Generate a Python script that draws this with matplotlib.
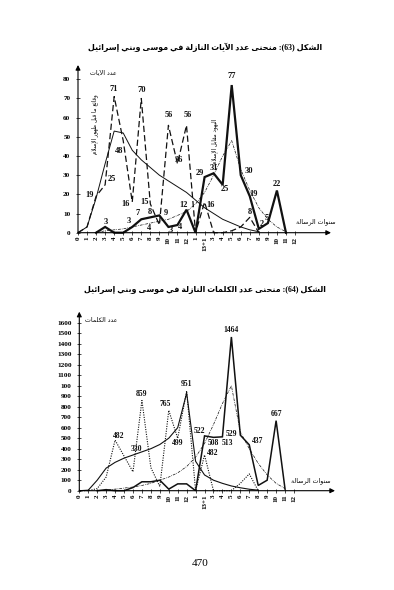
import re

import numpy as np
import matplotlib
matplotlib.use("Agg")
import matplotlib.pyplot as plt

# x axis: mission years (Mecca 0..12, then Medina)
X_LABELS = [str(i) for i in range(13)] + ["1", "13+1"] + [str(i) for i in range(3, 13)]

# figure 63: number of verses
AYAT_MAKKI = [0, 3, 19, 25, 71, 48, 16, 70, 15, 4, 56, 36, 56, 0, 16, 0, 0, 1, 3, 8, 0]          # from year idx 0
AYAT_MADANI = [0, 3, 0, 0, 3, 7, 8, 9, 3, 4, 12, 0, 29, 31, 25, 77, 30, 19, 2, 5, 22, 0]         # from idx 2
AYAT_TREND_MAKKI = [0, 3, 18, 36, 53, 52, 43, 38, 34, 30, 27, 24, 21, 17, 13, 10, 7, 5, 3, 1.5, 0.5]
AYAT_TREND_MADANI = [0, 1, 1.5, 2, 3, 4, 5, 6, 7, 9, 11, 15, 21, 30, 40, 48, 33, 22, 13, 7, 3, 0.5]

AYAT_NOTES_MAKKI = {2: "19", 3: "25", 4: "71", 5: "48", 6: "16", 7: "70", 8: "15", 9: "4",
                    10: "56", 11: "36", 12: "56", 14: "16", 19: "8"}
AYAT_NOTES_MADANI = {3: "3", 6: "3", 7: "7", 8: "8", 9: "9", 10: "3", 11: "4", 12: "12",
                     14: "29", 15: "31", 16: "25", 17: "77", 18: "30", 19: "19", 20: "2",
                     21: "5", 22: "22"}
AYAT_YTICKS = [0, 10, 20, 30, 40, 50, 60, 70, 80]

# figure 64: number of words
KALIMAT_MAKKI = [0, 0, 20, 130, 482, 330, 180, 859, 220, 40, 765, 499, 951, 0, 340, 0, 0, 0, 70, 160, 0]
KALIMAT_MADANI = [0, 10, 0, 0, 30, 85, 85, 100, 15, 65, 65, 0, 522, 508, 513, 1464, 529, 437, 50, 100, 667, 15]
KALIMAT_TREND_MAKKI = [0, 5, 100, 215, 270, 310, 340, 370, 400, 440, 500, 600, 930, 280, 150, 100, 70, 45, 28, 14, 5]
KALIMAT_TREND_MADANI = [0, 5, 15, 25, 35, 50, 70, 100, 130, 170, 230, 320, 450, 630, 830, 1000,
                        560, 400, 260, 150, 70, 20]

KALIMAT_NOTES_MAKKI = {4: "482", 5: "330", 7: "859", 10: "765", 11: "499", 12: "951", 14: "482"}
KALIMAT_NOTES_MADANI = {14: "522", 15: "508", 16: "513", 17: "1464", 18: "529", 19: "437", 22: "667"}
KALIMAT_YTICKS = list(range(0, 1700, 100))
KALIMAT_YLABELS = ["0", "100", "200", "300", "400", "500", "600", "700", "800", "900", "100",
                   "1100", "1200", "1300", "1400", "1500", "1600"]

W, H = 394, 590
SERIF = ["Liberation Serif", "DejaVu Sans"]

# --- minimal arabic shaping (presentation forms + reversed order) ---
_LET = [("ء", 0xFE80, 1), ("آ", 0xFE81, 2), ("أ", 0xFE83, 2), ("ؤ", 0xFE85, 2), ("إ", 0xFE87, 2),
        ("ئ", 0xFE89, 4), ("ا", 0xFE8D, 2), ("ب", 0xFE8F, 4), ("ة", 0xFE93, 2), ("ت", 0xFE95, 4),
        ("ث", 0xFE99, 4), ("ج", 0xFE9D, 4), ("ح", 0xFEA1, 4), ("خ", 0xFEA5, 4), ("د", 0xFEA9, 2),
        ("ذ", 0xFEAB, 2), ("ر", 0xFEAD, 2), ("ز", 0xFEAF, 2), ("س", 0xFEB1, 4), ("ش", 0xFEB5, 4),
        ("ص", 0xFEB9, 4), ("ض", 0xFEBD, 4), ("ط", 0xFEC1, 4), ("ظ", 0xFEC5, 4), ("ع", 0xFEC9, 4),
        ("غ", 0xFECD, 4), ("ف", 0xFED1, 4), ("ق", 0xFED5, 4), ("ك", 0xFED9, 4), ("ل", 0xFEDD, 4),
        ("م", 0xFEE1, 4), ("ن", 0xFEE5, 4), ("ه", 0xFEE9, 4), ("و", 0xFEED, 2), ("ى", 0xFEEF, 2),
        ("ي", 0xFEF1, 4)]
TAB = {c: (b, k) for c, b, k in _LET}
LAM_ALEF = {"آ": 0xFEF5, "أ": 0xFEF7, "إ": 0xFEF9, "ا": 0xFEFB}


def ar(s):
    out = []
    i = 0
    while i < len(s):
        c = s[i]
        if c not in TAB:
            out.append(c)
            i += 1
            continue
        prev = s[i - 1] if i > 0 else ""
        jp = prev in TAB and TAB[prev][1] == 4
        if c == "ل" and i + 1 < len(s) and s[i + 1] in LAM_ALEF:
            out.append(chr(LAM_ALEF[s[i + 1]] + (1 if jp else 0)))
            i += 2
            continue
        nxt = s[i + 1] if i + 1 < len(s) else ""
        base, k = TAB[c]
        jn = k == 4 and nxt in TAB
        if k == 1:
            form = 0
        elif jp and jn:
            form = 3
        elif jp:
            form = 1
        elif jn:
            form = 2
        else:
            form = 0
        out.append(chr(base + form))
        i += 1
    vis = "".join(out)[::-1]
    vis = vis.translate(str.maketrans("()", ")("))
    return re.sub(r"[0-9+]+", lambda m: m.group(0)[::-1], vis)


def px(x, y):
    return x / W, 1 - y / H


def panel(ax, x0, xmax, ymax, yticks, ylabels, series, notes, offsets, note_size):
    ax.set_xlim(0, xmax)
    ax.set_ylim(0, ymax)
    for s in ax.spines.values():
        s.set_visible(False)
    ax.set_facecolor("none")
    ax.annotate("", xy=(0, ymax), xytext=(0, 0), xycoords="data",
                arrowprops=dict(arrowstyle="-|>", lw=0.8, color="black", mutation_scale=7,
                                shrinkA=0, shrinkB=0), annotation_clip=False)
    ax.annotate("", xy=(xmax, 0), xytext=(0, 0), xycoords="data",
                arrowprops=dict(arrowstyle="-|>", lw=0.8, color="black", mutation_scale=7,
                                shrinkA=0, shrinkB=0), annotation_clip=False)

    ax.set_xticks(range(len(X_LABELS)))
    ax.set_xticklabels(X_LABELS, rotation=90, fontsize=5, fontweight="bold", family=SERIF)
    ax.set_yticks(yticks)
    ax.set_yticklabels(ylabels, fontsize=5.2, fontweight="bold", family=SERIF)
    ax.tick_params(axis="x", direction="inout", length=3, width=0.5, pad=1.5)
    ax.tick_params(axis="y", direction="inout", length=3, width=0.5, pad=4)

    pts = {}
    for key, (vals, start, style) in series.items():
        xs = np.arange(start, start + len(vals))
        ax.plot(xs, vals, color="#111111", clip_on=False, solid_joinstyle="miter", **style)
        pts[key] = dict(zip(xs, vals))

    for key, lab in notes.items():
        for idx, txt in lab.items():
            dx, dy = offsets[key].get(idx, (0, 6))
            ax.annotate(txt, (idx, pts[key][idx]), textcoords="offset pixels", xytext=(dx, dy),
                        ha="center", va="center", fontsize=note_size, fontweight="bold",
                        family=SERIF, color="#111111")


fig = plt.figure(figsize=(W / 100, H / 100), dpi=100)
fig.patch.set_facecolor("white")

# ---------- figure 63 ----------
sp = 217 / 24
xmax1 = (331 - 78) / sp
ymax1 = (232.7 - 65) / (153.4 / 80)
ax1 = fig.add_axes([78 / W, 1 - 232.7 / H, (331 - 78) / W, (232.7 - 65) / H])
panel(ax1, 78, xmax1, ymax1, AYAT_YTICKS, [str(v) for v in AYAT_YTICKS],
      {
          "tmad": (AYAT_TREND_MADANI, 2, dict(lw=0.5, dashes=(4, 1.5, 1, 1.5))),
          "tmak": (AYAT_TREND_MAKKI, 0, dict(lw=0.7)),
          "mak": (AYAT_MAKKI, 0, dict(lw=0.9, dashes=(5, 2.5))),
          "mad": (AYAT_MADANI, 2, dict(lw=1.6)),
      },
      {"mak": AYAT_NOTES_MAKKI, "mad": AYAT_NOTES_MADANI},
      {
          "mak": {2: (-7, 1), 3: (7, 6), 4: (0, 8), 5: (-4, -10), 6: (-7, -2), 7: (0, 8),
                  8: (-6, 2), 9: (-10, -3), 10: (0, 10), 11: (1, 4), 12: (1, 10), 14: (6, -3),
                  19: (0, 5)},
          "mad": {3: (1, 5), 6: (-3, 6), 7: (-4, 6), 8: (-1, 5), 9: (6, 2), 10: (2, -3),
                  11: (3, -2), 12: (-3, 5), 14: (-5, 4), 15: (0, 5), 16: (2, -4), 17: (0, 9),
                  18: (8, 4), 19: (4, 2), 20: (3, 5), 21: (-1, 5), 22: (0, 7)},
      }, 6)

# ---------- figure 64 ----------
sp2 = 214.7 / 24
xmax2 = (335 - 79.3) / sp2
ymax2 = (490.7 - 311.7) / (168 / 1600)
ax2 = fig.add_axes([79.3 / W, 1 - 490.7 / H, (335 - 79.3) / W, (490.7 - 311.7) / H])
panel(ax2, 79.3, xmax2, ymax2, KALIMAT_YTICKS, KALIMAT_YLABELS,
      {
          "tmad": (KALIMAT_TREND_MADANI, 2, dict(lw=0.5, dashes=(4, 1.5, 1, 1.5))),
          "tmak": (KALIMAT_TREND_MAKKI, 0, dict(lw=0.8)),
          "mak": (KALIMAT_MAKKI, 0, dict(lw=0.8, dashes=(1, 1.2))),
          "mad": (KALIMAT_MADANI, 2, dict(lw=1.1)),
      },
      {"mak": KALIMAT_NOTES_MAKKI, "mad": KALIMAT_NOTES_MADANI},
      {
          "mak": {4: (4, 4), 5: (12, 7), 7: (0, 7), 10: (-3, 6), 11: (0, -5), 12: (0, 7),
                  14: (8, 2)},
          "mad": {14: (-5, 5), 15: (0, -6), 16: (5, -6), 17: (0, 7), 18: (-9, 1), 19: (8, 4),
                  22: (0, 7)},
      }, 5.5)

# ---------- texts ----------
fig.text(*px(205, 47), ar("الشكل (63): منحنى عدد الآيات النازلة في موسى وبني إسرائيل"),
         ha="center", va="center", fontsize=5.7, fontweight="bold", family=SERIF)
fig.text(*px(205, 290), ar("الشكل (64): منحنى عدد الكلمات النازلة في موسى وبني إسرائيل"),
         ha="center", va="center", fontsize=5.7, fontweight="bold", family=SERIF)
fig.text(*px(103, 72), ar("عدد الآيات"), ha="center", va="center", fontsize=4.5,
         family="DejaVu Sans")
fig.text(*px(101, 321), ar("عدد الكلمات"), ha="center", va="center", fontsize=4.5,
         family="DejaVu Sans")
fig.text(*px(316, 222), ar("سنوات الرسالة"), ha="center", va="center", fontsize=4.5,
         family="DejaVu Sans")
fig.text(*px(311, 481), ar("سنوات الرسالة"), ha="center", va="center", fontsize=4.5,
         family="DejaVu Sans")
fig.text(*px(95, 124), ar("وقائع ما قبل ظهور الإسلام"), ha="center", va="center",
         fontsize=4, rotation=90, family="DejaVu Sans")
fig.text(*px(214.5, 141), ar("اليهود مقابل الإسلام"), ha="center", va="center",
         fontsize=4, rotation=90, family="DejaVu Sans")
fig.text(*px(200, 564), "470", ha="center", va="center", fontsize=8, family=SERIF)

fig.savefig("out.png", dpi=100, facecolor="white")
